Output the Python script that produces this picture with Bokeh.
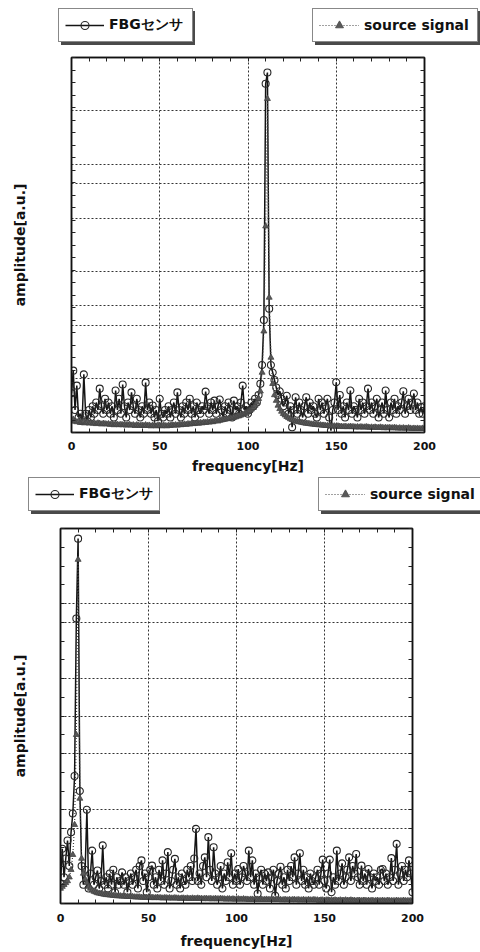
from bokeh.plotting import figure
from bokeh.models import Range1d, LinearAxis, FixedTicker, Legend, LegendItem, ColumnDataSource, Spacer
from bokeh.layouts import column, row
from bokeh.embed import file_html
from bokeh.resources import INLINE

# ---------------- data ----------------
freq = list(range(0, 201))  # Hz, 1 Hz bins

top_fbg = [
    0.105, 0.165, 0.06, 0.125, 0.04, 0.05, 0.03, 0.155, 0.05, 0.03,
    0.06, 0.04, 0.07, 0.05, 0.08, 0.06, 0.117, 0.07, 0.05, 0.09,
    0.06, 0.08, 0.05, 0.07, 0.04, 0.112, 0.06, 0.09, 0.05, 0.128,
    0.07, 0.04, 0.08, 0.06, 0.107, 0.07, 0.05, 0.09, 0.06, 0.04,
    0.07, 0.05, 0.133, 0.06, 0.08, 0.05, 0.072, 0.04, 0.06, 0.03,
    0.09, 0.05, 0.04, 0.06, 0.05, 0.07, 0.04, 0.06, 0.08, 0.05,
    0.107, 0.06, 0.04, 0.07, 0.05, 0.08, 0.06, 0.09, 0.05, 0.07,
    0.04, 0.08, 0.06, 0.05, 0.07, 0.06, 0.109, 0.07, 0.05, 0.08,
    0.06, 0.085, 0.05, 0.07, 0.088, 0.06, 0.04, 0.07, 0.05, 0.08,
    0.06, 0.04, 0.085, 0.06, 0.07, 0.05, 0.08, 0.125, 0.06, 0.07,
    0.05, 0.06, 0.08, 0.07, 0.09, 0.08, 0.10, 0.13, 0.18, 0.30,
    0.93, 0.96, 0.33, 0.18, 0.16, 0.14, 0.12, 0.10, 0.11, 0.09,
    0.07, 0.08, 0.098, 0.05, 0.07, 0.014, 0.06, 0.094, 0.05, 0.08,
    0.06, 0.04, 0.07, 0.094, 0.05, 0.08, 0.06, 0.07, 0.05, 0.04,
    0.09, 0.06, 0.08, 0.05, 0.07, 0.09, 0.04, 0.005, 0.06, 0.08,
    0.134, 0.06, 0.10, 0.05, 0.07, 0.04, 0.08, 0.06, 0.112, 0.05,
    0.07, 0.06, 0.04, 0.09, 0.06, 0.08, 0.05, 0.07, 0.117, 0.06,
    0.08, 0.05, 0.07, 0.09, 0.04, 0.06, 0.08, 0.05, 0.112, 0.06,
    0.04, 0.08, 0.06, 0.09, 0.05, 0.07, 0.06, 0.08, 0.11, 0.05,
    0.07, 0.09, 0.06, 0.08, 0.104, 0.06, 0.08, 0.05, 0.068, 0.05,
    0.07,
]

top_src = [
    0.03, 0.035, 0.03, 0.028, 0.03, 0.026, 0.028, 0.03, 0.025, 0.027,
    0.025, 0.026, 0.024, 0.025, 0.023, 0.025, 0.024, 0.022, 0.024, 0.023,
    0.022, 0.023, 0.021, 0.022, 0.02, 0.022, 0.021, 0.02, 0.021, 0.02,
    0.021, 0.019, 0.02, 0.021, 0.019, 0.02, 0.018, 0.02, 0.019, 0.018,
    0.019, 0.018, 0.02, 0.018, 0.019, 0.017, 0.019, 0.018, 0.017, 0.019,
    0.018, 0.017, 0.019, 0.018, 0.017, 0.019, 0.018, 0.02, 0.019, 0.02,
    0.019, 0.021, 0.02, 0.021, 0.022, 0.021, 0.023, 0.022, 0.024, 0.023,
    0.024, 0.025, 0.024, 0.026, 0.025, 0.027, 0.026, 0.028, 0.027, 0.029,
    0.028, 0.03, 0.031, 0.03, 0.032, 0.033, 0.034, 0.035, 0.036, 0.037,
    0.038, 0.039, 0.04, 0.041, 0.043, 0.044, 0.046, 0.048, 0.05, 0.052,
    0.055, 0.058, 0.062, 0.066, 0.072, 0.08, 0.09, 0.11, 0.16, 0.27,
    0.55, 0.89, 0.36, 0.2, 0.13, 0.1, 0.085, 0.072, 0.063, 0.056,
    0.05, 0.046, 0.042, 0.039, 0.036, 0.034, 0.032, 0.03, 0.029, 0.028,
    0.027, 0.026, 0.025, 0.024, 0.024, 0.023, 0.022, 0.022, 0.021, 0.021,
    0.02, 0.02, 0.019, 0.019, 0.018, 0.018, 0.018, 0.017, 0.017, 0.017,
    0.016, 0.017, 0.016, 0.016, 0.015, 0.016, 0.015, 0.015, 0.016, 0.015,
    0.015, 0.014, 0.015, 0.014, 0.015, 0.014, 0.014, 0.015, 0.014, 0.013,
    0.014, 0.013, 0.014, 0.013, 0.013, 0.014, 0.013, 0.012, 0.013, 0.012,
    0.013, 0.012, 0.012, 0.013, 0.012, 0.011, 0.012, 0.011, 0.012, 0.011,
    0.011, 0.012, 0.011, 0.01, 0.011, 0.01, 0.011, 0.01, 0.01, 0.011,
    0.01,
]

bot_fbg = [
    0.053, 0.146, 0.07, 0.12, 0.168, 0.10, 0.19, 0.24, 0.34, 0.76,
    0.973, 0.30, 0.10, 0.05, 0.09, 0.25, 0.04, 0.08, 0.141, 0.05,
    0.07, 0.088, 0.04, 0.06, 0.155, 0.05, 0.07, 0.04, 0.08, 0.05,
    0.09, 0.03, 0.07, 0.05, 0.06, 0.083, 0.05, 0.07, 0.03, 0.06,
    0.08, 0.05, 0.07, 0.09, 0.04, 0.10, 0.115, 0.06, 0.08, 0.03,
    0.07, 0.09, 0.101, 0.05, 0.07, 0.04, 0.09, 0.06, 0.115, 0.05,
    0.08, 0.137, 0.04, 0.06, 0.09, 0.119, 0.05, 0.07, 0.04, 0.08,
    0.06, 0.05, 0.09, 0.07, 0.10, 0.06, 0.12, 0.199, 0.06, 0.08,
    0.05, 0.10, 0.123, 0.07, 0.177, 0.09, 0.06, 0.15, 0.08, 0.05,
    0.07, 0.10, 0.04, 0.08, 0.06, 0.11, 0.07, 0.134, 0.05, 0.08,
    0.06, 0.092, 0.05, 0.07, 0.10, 0.08, 0.06, 0.141, 0.07, 0.115,
    0.05, 0.08, 0.026, 0.07, 0.09, 0.05, 0.08, 0.06, 0.083, 0.04,
    0.07, 0.09, 0.021, 0.06, 0.08, 0.098, 0.05, 0.07, 0.04, 0.09,
    0.06, 0.10, 0.07, 0.123, 0.05, 0.08, 0.134, 0.06, 0.09, 0.05,
    0.07, 0.04, 0.08, 0.06, 0.05, 0.07, 0.09, 0.05, 0.08, 0.117,
    0.06, 0.04, 0.08, 0.117, 0.03, 0.07, 0.05, 0.141, 0.06, 0.08,
    0.107, 0.05, 0.07, 0.09, 0.123, 0.06, 0.10, 0.08, 0.132, 0.07,
    0.05, 0.101, 0.06, 0.08, 0.05, 0.092, 0.07, 0.04, 0.08, 0.06,
    0.07, 0.05, 0.09, 0.092, 0.06, 0.08, 0.05, 0.07, 0.121, 0.06,
    0.09, 0.159, 0.05, 0.08, 0.10, 0.06, 0.09, 0.07, 0.115, 0.08,
    0.03,
]

bot_src = [
    0.04, 0.045, 0.05, 0.055, 0.06, 0.07, 0.09, 0.13, 0.21, 0.45,
    0.917, 0.28, 0.12, 0.08, 0.065, 0.055, 0.045, 0.04, 0.035, 0.032,
    0.03, 0.028, 0.027, 0.026, 0.025, 0.024, 0.023, 0.023, 0.022, 0.022,
    0.021, 0.021, 0.02, 0.02, 0.02, 0.019, 0.019, 0.019, 0.018, 0.018,
    0.018, 0.018, 0.017, 0.017, 0.017, 0.017, 0.016, 0.016, 0.016, 0.016,
    0.016, 0.015, 0.016, 0.015, 0.015, 0.016, 0.015, 0.015, 0.014, 0.015,
    0.015, 0.014, 0.015, 0.014, 0.014, 0.015, 0.014, 0.014, 0.013, 0.014,
    0.014, 0.013, 0.014, 0.013, 0.013, 0.014, 0.013, 0.013, 0.014, 0.013,
    0.013, 0.012, 0.013, 0.013, 0.012, 0.013, 0.012, 0.012, 0.013, 0.012,
    0.012, 0.013, 0.012, 0.012, 0.011, 0.012, 0.012, 0.011, 0.012, 0.011,
    0.011, 0.012, 0.011, 0.011, 0.012, 0.011, 0.011, 0.01, 0.011, 0.011,
    0.01, 0.011, 0.011, 0.01, 0.011, 0.01, 0.01, 0.011, 0.01, 0.01,
    0.011, 0.01, 0.01, 0.011, 0.01, 0.01, 0.009, 0.01, 0.01, 0.009,
    0.01, 0.009, 0.01, 0.01, 0.009, 0.01, 0.009, 0.009, 0.01, 0.009,
    0.009, 0.01, 0.009, 0.009, 0.01, 0.009, 0.009, 0.008, 0.009, 0.009,
    0.008, 0.009, 0.009, 0.008, 0.009, 0.008, 0.009, 0.008, 0.008, 0.009,
    0.008, 0.008, 0.009, 0.008, 0.008, 0.009, 0.008, 0.008, 0.007, 0.008,
    0.008, 0.007, 0.008, 0.008, 0.007, 0.008, 0.007, 0.008, 0.007, 0.007,
    0.008, 0.007, 0.007, 0.008, 0.007, 0.007, 0.008, 0.007, 0.007, 0.007,
    0.007, 0.008, 0.007, 0.007, 0.007, 0.008, 0.007, 0.007, 0.007, 0.007,
    0.007,
]

x_ticks = [0, 50, 100, 150, 200]
x_minor = list(range(0, 201, 10))
x_grid = [50, 100, 150]
top_grid = [0.144, 0.286, 0.339, 0.429, 0.572, 0.664, 0.714, 0.858]
bot_grid = [0.2, 0.25, 0.4, 0.5, 0.6, 0.75, 0.8]
top_yticks = [i / 30 for i in range(31)]
bot_yticks = [i / 20 for i in range(21)]

label_fbg = "FBGセンサ"
label_src = "source signal"
x_title = "frequency[Hz]"
y_title = "amplitude[a.u.]"

FONT = "DejaVu Sans"
INK = "#111111"
SHADOW = "#4a4a4a"

FBG_LINE = dict(line_color="#141414", line_width=1.5)
FBG_MARK = dict(marker="circle", size=7, line_color="#262626", fill_color=None, line_width=1.1)
SRC_LINE = dict(line_color="#444444", line_width=1.2, line_dash="1 2")
SRC_MARK = dict(marker="triangle", size=6, line_color="#444444", fill_color="#595959", line_width=0.8)


def tick_style(ax):
    ax.major_tick_in = 5
    ax.major_tick_out = 0
    ax.minor_tick_in = 4
    ax.minor_tick_out = 0
    ax.axis_line_color = INK
    ax.axis_line_width = 1.5
    ax.major_tick_line_color = "#222222"
    ax.minor_tick_line_color = "#222222"


def tick_only_axis(minor):
    ax = LinearAxis(ticker=FixedTicker(ticks=[], minor_ticks=minor))
    tick_style(ax)
    ax.major_label_standoff = 0
    return ax


def legend_box(label, kind, ds, width, height, loc, glyph_w, label_w):
    """Separate small canvas holding one boxed legend with a drop shadow.
    Its ranges lie outside the data, so only the legend is visible."""
    q = figure(width=width, height=height, x_range=Range1d(-3, -2), y_range=Range1d(-3, -2),
               x_axis_type=None, y_axis_type=None, output_backend="svg",
               toolbar_location=None, min_border=0)
    q.outline_line_color = None
    q.grid.visible = False
    q.background_fill_color = "white"
    q.border_fill_color = "white"
    q.frame_align = False
    col = "fbg" if kind == "fbg" else "src"
    line_kw = FBG_LINE if kind == "fbg" else SRC_LINE
    mark_kw = FBG_MARK if kind == "fbg" else SRC_MARK
    rs = [q.line("f", col, source=ds, **line_kw), q.scatter("f", col, source=ds, **mark_kw)]
    hidden = q.line("f", col, source=ds, line_alpha=0)
    common = dict(orientation="horizontal", padding=6, margin=0, spacing=0,
                  glyph_width=glyph_w, glyph_height=20, label_height=20,
                  label_width=label_w, label_standoff=5,
                  label_text_font=FONT, label_text_font_size="14px",
                  label_text_font_style="bold", border_line_width=1.5,
                  background_fill_alpha=1.0)
    shadow = Legend(items=[LegendItem(label=" ", renderers=[hidden])],
                    location=(loc[0] + 3, loc[1] - 3),
                    background_fill_color=SHADOW, border_line_color=SHADOW,
                    label_text_color=SHADOW, **common)
    main = Legend(items=[LegendItem(label=label, renderers=rs)], location=loc,
                  background_fill_color="white", border_line_color=INK,
                  label_text_color=INK, **common)
    q.add_layout(shadow)
    q.add_layout(main)
    return q


def make_panel(ds, ygrid, yticks, height, bl, bt, bb, br,
               y_standoff, lbl_standoff, ttl_standoff):
    p = figure(width=480, height=height, x_range=Range1d(0, 200), y_range=Range1d(0, 1),
               output_backend="svg", toolbar_location=None,
               min_border_left=bl, min_border_top=bt, min_border_bottom=bb,
               min_border_right=br)
    p.frame_align = False
    p.outline_line_color = INK
    p.outline_line_width = 1.5
    p.background_fill_color = "white"
    p.border_fill_color = "white"

    p.line("f", "fbg", source=ds, **FBG_LINE)
    p.scatter("f", "fbg", source=ds, **FBG_MARK)
    p.line("f", "src", source=ds, **SRC_LINE)
    p.scatter("f", "src", source=ds, **SRC_MARK)

    # bottom axis
    xa = p.xaxis[0]
    xa.ticker = FixedTicker(ticks=x_ticks, minor_ticks=x_minor)
    tick_style(xa)
    xa.major_label_text_font = FONT
    xa.major_label_text_font_style = "bold"
    xa.major_label_text_font_size = "11px"
    xa.major_label_text_color = INK
    xa.major_label_standoff = lbl_standoff
    xa.axis_label = x_title
    xa.axis_label_text_font = FONT
    xa.axis_label_text_font_style = "bold"
    xa.axis_label_text_font_size = "14px"
    xa.axis_label_text_color = INK
    xa.axis_label_standoff = ttl_standoff

    # left axis: ticks only + title
    ya = p.yaxis[0]
    ya.ticker = FixedTicker(ticks=[], minor_ticks=yticks)
    tick_style(ya)
    ya.major_label_standoff = 0
    ya.axis_label = y_title
    ya.axis_label_text_font = FONT
    ya.axis_label_text_font_style = "bold"
    ya.axis_label_text_font_size = "14px"
    ya.axis_label_text_color = INK
    ya.axis_label_standoff = y_standoff

    # top and right axes (ticks only)
    p.add_layout(tick_only_axis(x_minor), "above")
    p.add_layout(tick_only_axis(yticks), "right")

    # grids
    p.xgrid.ticker = FixedTicker(ticks=x_grid)
    p.ygrid.ticker = FixedTicker(ticks=ygrid)
    p.grid.grid_line_color = "#333333"
    p.grid.grid_line_width = 1
    p.grid.grid_line_dash = "2 2"
    return p


ds_top = ColumnDataSource(dict(f=freq, fbg=top_fbg, src=top_src))
ds_bot = ColumnDataSource(dict(f=freq, fbg=bot_fbg, src=bot_src))

# ---- top panel ----
top_leg_row = row(
    Spacer(width=58, height=46),
    legend_box(label_fbg, "fbg", ds_top, 137, 46, (0, 4), 39, 77),
    Spacer(width=117, height=46),
    legend_box(label_src, "src", ds_top, 168, 46, (0, 4), 40, 107),
    spacing=0,
)
p1 = make_panel(ds_top, top_grid, top_yticks, 430, 71, 11, 44, 56, 44, 9, 5)

# ---- bottom panel ----
bot_leg_row = row(
    Spacer(width=28, height=44),
    legend_box(label_fbg, "fbg", ds_bot, 132, 44, (0, 9), 39, 73),
    Spacer(width=158, height=44),
    legend_box(label_src, "src", ds_bot, 162, 44, (0, 9), 40, 107),
    spacing=0,
)
p2 = make_panel(ds_bot, bot_grid, bot_yticks, 432, 60, 8, 49, 68, 33, 10, 8)

layout = column(top_leg_row, p1, bot_leg_row, p2, spacing=0)
open("out.html", "w").write(file_html(layout, INLINE))
